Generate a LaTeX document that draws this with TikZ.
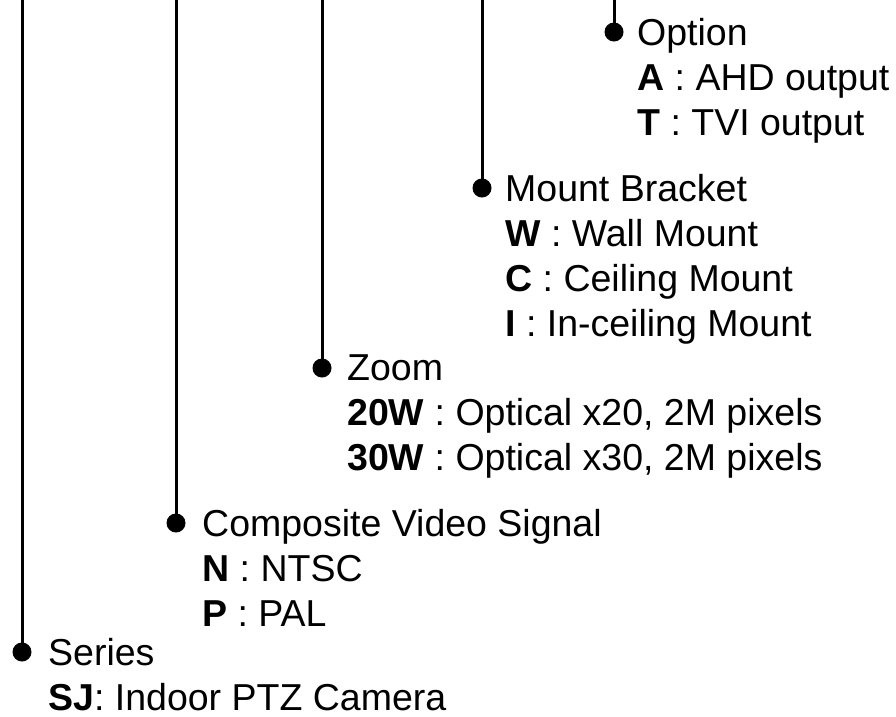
\documentclass[tikz,border=0pt]{standalone}
\usepackage{fontspec}
\setmainfont{Liberation Sans}
\usetikzlibrary{positioning}

\tikzset{
  pin dot/.style={circle, fill=black, inner sep=0pt, minimum size=19pt},
  stem/.style={line width=3pt},
  code list/.style={anchor=north west, inner sep=0pt, align=left,
    font=\fontsize{37.5}{45}\selectfont},
}

\begin{document}
\begin{tikzpicture}[x=1pt, y=-1pt]
    \useasboundingbox (0,0) rectangle (896,716);
    \coordinate (top) at (0,0);

    % Series
    \node[pin dot] (series) at (22,652) {};
    \node[code list] (seriesText) at (48,638.5)
        {Series\\\textbf{SJ}: Indoor PTZ Camera};

    % Composite video signal
    \node[pin dot] (video) at (176,523) {};
    \node[code list] (videoText) at (202,509.5)
        {Composite Video Signal\\\textbf{N} : NTSC\\\textbf{P} : PAL};

    % Zoom
    \node[pin dot] (zoom) at (322,368) {};
    \node[code list] (zoomText) at (347,354.5)
        {Zoom\\\textbf{20W} : Optical x20, 2M pixels\\\textbf{30W} : Optical x30, 2M pixels};

    % Mount bracket
    \node[pin dot] (mount) at (482,188) {};
    \node[code list] (mountText) at (505,174.5)
        {Mount Bracket\\\textbf{W} : Wall Mount\\\textbf{C} : Ceiling Mount\\\textbf{I} : In-ceiling Mount};

    % Option
    \node[pin dot] (option) at (614,32) {};
    \node[code list] (optionText) at (637,18.5)
        {Option\\\textbf{A} : AHD output\\\textbf{T} : TVI output};

    % Stems up to the top edge
    \foreach \d in {series,video,zoom,mount,option}
        \draw[stem] (\d.center) -- (\d.center |- top);
\end{tikzpicture}
\end{document}
